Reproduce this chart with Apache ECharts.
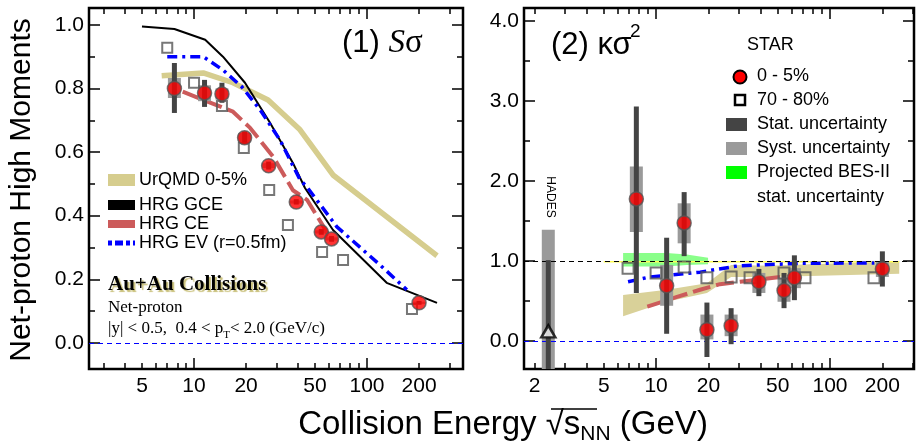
<!DOCTYPE html>
<html><head><meta charset="utf-8">
<script src="https://cdn.jsdelivr.net/npm/echarts@6/dist/echarts.min.js"></script>
<style>html,body{margin:0;padding:0;background:#fff}#c{width:922px;height:445px}</style>
</head><body><div id="c"></div>
<script>
// ---------- data ----------
const energies = [7.7, 11.5, 14.5, 19.6, 27, 39, 54.4, 62.4, 200];
// Panel (1) S sigma, 0-5%
const sSig05 = [0.800, 0.786, 0.783, 0.645, 0.557, 0.443, 0.349, 0.327, 0.126];
const sSigStatLo = [0.723, 0.742, 0.755, 0.625, 0.545, 0.435, 0.340, 0.318, 0.120];
const sSigStatHi = [0.880, 0.827, 0.818, 0.665, 0.570, 0.452, 0.358, 0.336, 0.132];
const sSigSysLo = [0.770, 0.760, 0.765, 0.630, 0.550, 0.438, 0.344, 0.322, 0.122];
const sSigSysHi = [0.833, 0.810, 0.800, 0.660, 0.565, 0.448, 0.354, 0.332, 0.130];
// Panel (1) S sigma, 70-80% (plotted slightly offset in energy)
const sSig7080E = [7.0, 10.0, 14.5, 19.4, 27.2, 34.9, 55, 72.7, 182];
const sSig7080 = [0.928, 0.818, 0.745, 0.613, 0.481, 0.371, 0.286, 0.261, 0.107];
// Panel (1) models
const urqmdS = [[6.5, 0.840], [11.3, 0.849], [16.8, 0.818], [26.8, 0.764], [41, 0.670], [63.6, 0.528], [254, 0.274]];
const hrgGceS = [[5, 0.995], [7.7, 0.987], [11.6, 0.953], [14.7, 0.900], [19.7, 0.818], [27.5, 0.692], [37.3, 0.566], [43.8, 0.487], [63.6, 0.355], [130, 0.189], [254, 0.126]];
const hrgCeS = [[8.6, 0.790], [11.3, 0.764], [16.8, 0.727], [21.1, 0.676], [28.7, 0.585], [37.3, 0.480], [45, 0.450], [61, 0.333]];
const hrgEvS = [[7.0, 0.900], [11.3, 0.900], [14.7, 0.858], [18.9, 0.805], [24.1, 0.733], [31.4, 0.638], [41, 0.513], [45, 0.490], [67, 0.365], [119, 0.245], [170, 0.167]];

// Panel (2) kappa sigma^2, 0-5%
const kSig05 = [1.775, 0.690, 1.475, 0.140, 0.190, 0.740, 0.630, 0.790, 0.900];
const kSigStatLo = [0.60, 0.09, 1.06, -0.20, -0.04, 0.56, 0.41, 0.51, 0.68];
const kSigStatHi = [2.93, 1.29, 1.86, 0.48, 0.41, 0.90, 0.85, 1.07, 1.12];
const kSigSysLo = [1.36, 0.44, 1.22, 0.02, 0.06, 0.60, 0.49, 0.66, 0.80];
const kSigSysHi = [2.18, 0.95, 1.72, 0.33, 0.33, 0.85, 0.79, 0.91, 0.99];
// Panel (2) 70-80%
const kSig7080E = [6.9, 10.0, 14.5, 19.6, 27, 34.7, 54.4, 71.8, 179];
const kSig7080 = [0.91, 0.85, 0.925, 0.79, 0.80, 0.79, 0.85, 0.79, 0.79];
// HADES
const hadesE = [2.4];
const hadesVal = [0.12];
const hadesStat = [[-0.6, 1.01]];
const hadesSys = [[-0.6, 1.39]];
// Panel (2) models / bands
const urqmdKUpper = [[6.46, 0.575], [11.5, 0.64], [19.6, 0.72], [27, 0.95], [45, 0.94], [250, 1.00]];
const urqmdKLower = [[6.46, 0.31], [11.5, 0.49], [19.6, 0.60], [27, 0.80], [45, 0.80], [250, 0.84]];
const besIIUpper = [[6.46, 1.10], [11.5, 1.10], [15, 1.08], [19.9, 1.04]];
const besIILower = [[6.46, 0.93], [11.5, 0.93], [15, 0.95], [19.9, 0.96]];
const hrgGceK = [[5, 0.99], [250, 0.99]];
const hrgCeK = [[8.9, 0.43], [13.2, 0.55], [17.9, 0.64], [23.3, 0.71], [30.4, 0.74], [51.6, 0.80]];
const hrgEvK = [[6.9, 0.74], [9.2, 0.80], [11.5, 0.82], [17.9, 0.86], [30, 0.94], [67, 0.97], [180, 0.975]];

// axes
const xRangeL = [2.47, 359];
const xRangeR = [1.74, 304];
const xLabelsL = [5, 10, 20, 50, 100, 200];
const xLabelsR = [2, 5, 10, 20, 50, 100, 200];
const xMajorTicks = [10, 100];
const xMinorTicks = [2, 3, 4, 5, 6, 7, 8, 9, 20, 30, 40, 50, 60, 70, 80, 90, 200, 300];
const yRangeL = [-0.082, 1.053];
const yLabelsL = [0, 0.2, 0.4, 0.6, 0.8, 1.0];
const yMinorL = [0.1, 0.3, 0.5, 0.7, 0.9];
const yRangeR = [-0.35, 4.16];
const yLabelsR = [0, 1, 2, 3, 4];
const yMinorR = [0.5, 1.5, 2.5, 3.5];

// ---------- helpers ----------
const L = Math.log10;
const FONT = 'Liberation Sans';
const SERIF = 'Liberation Serif';
const xy = (xs, ys) => xs.map((x, i) => [L(x), ys[i]]);
const pts = arr => arr.map(p => [L(p[0]), p[1]]);

function mkX(gi, range, labels, pos) {
  const inR = v => v >= range[0] && v <= range[1];
  const base = {type: 'value', gridIndex: gi, min: L(range[0]), max: L(range[1]), position: pos,
    axisLine: {show: false, onZero: false}, splitLine: {show: false}};
  return [
    Object.assign({}, base, {
      axisTick: {show: true, inside: true, length: 11, lineStyle: {color: '#000', width: 1.5}, customValues: xMajorTicks.filter(inR).map(L)},
      axisLabel: labels ? {show: true, customValues: labels.filter(inR).map(L), formatter: v => String(Math.round(Math.pow(10, v))),
        fontSize: 21, color: '#000', margin: 7, fontFamily: FONT} : {show: false}
    }),
    Object.assign({}, base, {
      axisTick: {show: true, inside: true, length: 6, lineStyle: {color: '#000', width: 1.5}, customValues: xMinorTicks.filter(inR).map(L)},
      axisLabel: {show: false}
    })
  ];
}
function mkY(gi, range, labels, minors, pos, showLabels) {
  const base = {type: 'value', gridIndex: gi, min: range[0], max: range[1], position: pos,
    axisLine: {show: false, onZero: false}, splitLine: {show: false}};
  return [
    Object.assign({}, base, {
      axisTick: {show: true, inside: true, length: 11, lineStyle: {color: '#000', width: 1.5}, customValues: labels},
      axisLabel: showLabels ? {show: true, customValues: labels, formatter: v => v.toFixed(1),
        fontSize: 21, color: '#000', margin: 5, fontFamily: FONT} : {show: false}
    }),
    Object.assign({}, base, {
      axisTick: {show: true, inside: true, length: 6, lineStyle: {color: '#000', width: 1.5}, customValues: minors},
      axisLabel: {show: false}
    })
  ];
}
function barRender(width, color) {
  return function (params, api) {
    const x = api.value(0), lo = api.value(1), hi = api.value(2);
    const pT = api.coord([x, hi]), pB = api.coord([x, lo]);
    const cs = params.coordSys;
    const y1 = Math.max(pT[1], cs.y), y2 = Math.min(pB[1], cs.y + cs.height);
    return {type: 'rect', shape: {x: pT[0] - width / 2, y: y1, width: width, height: Math.max(0, y2 - y1)}, style: {fill: color}};
  };
}
function bandRender(upper, lower, color) {
  return function (params, api) {
    if (params.dataIndex !== 0) return;
    const p = upper.map(q => api.coord([L(q[0]), q[1]]))
      .concat(lower.slice().reverse().map(q => api.coord([L(q[0]), q[1]])));
    return {type: 'polygon', shape: {points: p}, style: {fill: color}};
  };
}
function errSeries(xi, yi, xs, lo, hi, width, color, z) {
  return {type: 'custom', xAxisIndex: xi, yAxisIndex: yi, z: z, silent: true,
    data: xs.map((x, i) => [L(x), lo[i], hi[i]]), renderItem: barRender(width, color)};
}
const KHAKI = '#d6cd8e';
const REDLINE = '#cc5b5b';

// ---------- option ----------
const option = {
  animation: false,
  backgroundColor: '#fff',
  textStyle: {fontFamily: FONT},
  grid: [
    {left: 89, top: 8, width: 374, height: 361, show: true, borderColor: '#000', borderWidth: 2.5, backgroundColor: 'transparent'},
    {left: 524, top: 8, width: 390, height: 361, show: true, borderColor: '#000', borderWidth: 2.5, backgroundColor: 'transparent'}
  ],
  xAxis: [].concat(
    mkX(0, xRangeL, xLabelsL, 'bottom'), mkX(0, xRangeL, null, 'top'),
    mkX(1, xRangeR, xLabelsR, 'bottom'), mkX(1, xRangeR, null, 'top')
  ),
  yAxis: [].concat(
    mkY(0, yRangeL, yLabelsL, yMinorL, 'left', true), mkY(0, yRangeL, yLabelsL, yMinorL, 'right', false),
    mkY(1, yRangeR, yLabelsR, yMinorR, 'left', true), mkY(1, yRangeR, yLabelsR, yMinorR, 'right', false)
  ),
  series: [
    // ----- panel 1 -----
    {type: 'line', xAxisIndex: 0, yAxisIndex: 0, data: pts(urqmdS), symbol: 'none', z: 2,
      lineStyle: {color: KHAKI, width: 5.5}},
    {type: 'line', xAxisIndex: 0, yAxisIndex: 0, data: pts(hrgGceS), symbol: 'none', z: 3,
      lineStyle: {color: '#000', width: 2},
      markLine: {silent: true, symbol: 'none', label: {show: false}, animation: false,
        lineStyle: {color: '#0000ff', type: [5, 4], width: 1.2}, data: [{yAxis: 0}]}},
    {type: 'line', xAxisIndex: 0, yAxisIndex: 0, data: pts(hrgCeS), symbol: 'none', z: 3,
      lineStyle: {color: REDLINE, width: 4, type: [18, 6]}},
    {type: 'line', xAxisIndex: 0, yAxisIndex: 0, data: pts(hrgEvS), symbol: 'none', z: 3,
      lineStyle: {color: '#0000ff', width: 3.5, type: [10, 5, 3, 5]}},
    errSeries(0, 0, energies, sSigSysLo, sSigSysHi, 13, '#9a9a9a', 4),
    errSeries(0, 0, energies, sSigStatLo, sSigStatHi, 5, '#444444', 5),
    {type: 'scatter', xAxisIndex: 0, yAxisIndex: 0, data: xy(sSig7080E, sSig7080), symbol: 'rect', symbolSize: 10, z: 6,
      itemStyle: {color: 'rgba(255,255,255,0)', borderColor: '#555', borderWidth: 2}},
    {type: 'scatter', xAxisIndex: 0, yAxisIndex: 0, data: xy(energies, sSig05), symbol: 'circle', symbolSize: 14, z: 7,
      itemStyle: {color: '#ff0000', borderColor: '#555', borderWidth: 1.5}},
    // ----- panel 2 -----
    {type: 'custom', xAxisIndex: 4, yAxisIndex: 4, z: 1, silent: true, clip: true,
      data: [[L(urqmdKUpper[0][0]), urqmdKUpper[0][1]]], renderItem: bandRender(urqmdKUpper, urqmdKLower, '#d9d199')},
    {type: 'custom', xAxisIndex: 4, yAxisIndex: 4, z: 1, silent: true, clip: true,
      data: [[L(besIIUpper[0][0]), besIIUpper[0][1]]], renderItem: bandRender(besIIUpper, besIILower, 'rgba(60,255,60,0.6)')},
    {type: 'line', xAxisIndex: 4, yAxisIndex: 4, data: pts(hrgGceK), symbol: 'none', z: 2,
      lineStyle: {color: '#ffff55', width: 1.5},
      markLine: {silent: true, symbol: 'none', label: {show: false}, animation: false,
        data: [
          {yAxis: 1, lineStyle: {color: '#000', type: [5, 4], width: 1.2}},
          {yAxis: 0, lineStyle: {color: '#0000ff', type: [5, 4], width: 1.2}}
        ]}},
    {type: 'line', xAxisIndex: 4, yAxisIndex: 4, data: pts(hrgCeK), symbol: 'none', z: 3,
      lineStyle: {color: REDLINE, width: 4, type: [18, 6]}},
    {type: 'line', xAxisIndex: 4, yAxisIndex: 4, data: pts(hrgEvK), symbol: 'none', z: 3,
      lineStyle: {color: '#0000ff', width: 3.5, type: [10, 5, 3, 5]}},
    errSeries(4, 4, hadesE, hadesSys.map(d => d[0]), hadesSys.map(d => d[1]), 13, '#9a9a9a', 4),
    errSeries(4, 4, hadesE, hadesStat.map(d => d[0]), hadesStat.map(d => d[1]), 5, '#444444', 5),
    {type: 'scatter', xAxisIndex: 4, yAxisIndex: 4, data: xy(hadesE, hadesVal), symbol: 'triangle', symbolSize: [14, 12], z: 7,
      itemStyle: {color: '#fff', borderColor: '#000', borderWidth: 2.5}},
    errSeries(4, 4, energies, kSigSysLo, kSigSysHi, 13, '#9a9a9a', 4),
    errSeries(4, 4, energies, kSigStatLo, kSigStatHi, 5, '#444444', 5),
    {type: 'scatter', xAxisIndex: 4, yAxisIndex: 4, data: xy(kSig7080E, kSig7080), symbol: 'rect', symbolSize: 11, z: 6,
      itemStyle: {color: 'rgba(255,255,255,0)', borderColor: '#555', borderWidth: 2}},
    {type: 'scatter', xAxisIndex: 4, yAxisIndex: 4, data: xy(energies, kSig05), symbol: 'circle', symbolSize: 14, z: 7,
      itemStyle: {color: '#ff0000', borderColor: '#555', borderWidth: 1.5}}
  ],
  graphic: [
    // axis titles
    {type: 'text', x: 22, y: 190, rotation: Math.PI / 2, z: 10,
      style: {text: 'Net-proton High Moments', font: '30px ' + FONT, fill: '#000', textAlign: 'center', textVerticalAlign: 'middle', align: 'center', verticalAlign: 'middle'}},
    {type: 'text', x: 503, y: 425, z: 10,
      style: {text: '{a|Collision Energy }{r|√}{b|s}{c|NN}{a| (GeV)}', textAlign: 'center', textVerticalAlign: 'middle', align: 'center', verticalAlign: 'middle',
        rich: {a: {fontSize: 33, fontFamily: FONT, fill: '#000', lineHeight: 40},
               r: {fontSize: 33, fontFamily: FONT, fill: '#000', lineHeight: 40},
               b: {fontSize: 33, fontFamily: FONT, fill: '#000', lineHeight: 40},
               c: {fontSize: 21, fontFamily: FONT, fill: '#000', lineHeight: 21, padding: [19, 0, 0, 0]}}}},
    {type: 'line', shape: {x1: 551, y1: 409, x2: 597, y2: 409}, style: {stroke: '#000', lineWidth: 1.5}, z: 10},
    // panel titles
    {type: 'text', x: 342, y: 43, z: 10,
      style: {text: '{a|(1) }{b|S}{c|σ}', textVerticalAlign: 'middle', verticalAlign: 'middle',
        rich: {a: {fontSize: 31, fontFamily: FONT, fill: '#000'}, b: {fontSize: 33, fontFamily: SERIF, fontStyle: 'italic', fill: '#000'}, c: {fontSize: 33, fontFamily: SERIF, fill: '#000'}}}},
    {type: 'text', x: 551, y: 45, z: 10,
      style: {text: '(2) κσ', font: '31px ' + FONT, fill: '#000', textVerticalAlign: 'middle', verticalAlign: 'middle'}},
    {type: 'text', x: 630, y: 32, z: 10,
      style: {text: '2', font: '19px ' + FONT, fill: '#000', textVerticalAlign: 'middle', verticalAlign: 'middle'}},
    // left legend
    {type: 'rect', shape: {x: 108, y: 174, width: 27, height: 12}, style: {fill: KHAKI}, z: 10},
    {type: 'text', x: 139, y: 180, z: 10, style: {text: 'UrQMD 0-5%', font: '18px ' + FONT, fill: '#000', textVerticalAlign: 'middle', verticalAlign: 'middle'}},
    {type: 'rect', shape: {x: 108, y: 200, width: 27, height: 10}, style: {fill: '#000'}, z: 10},
    {type: 'text', x: 139, y: 205, z: 10, style: {text: 'HRG GCE', font: '18px ' + FONT, fill: '#000', textVerticalAlign: 'middle', verticalAlign: 'middle'}},
    {type: 'rect', shape: {x: 108, y: 220, width: 27, height: 8}, style: {fill: REDLINE}, z: 10},
    {type: 'text', x: 139, y: 224, z: 10, style: {text: 'HRG CE', font: '18px ' + FONT, fill: '#000', textVerticalAlign: 'middle', verticalAlign: 'middle'}},
    {type: 'line', shape: {x1: 108, y1: 243, x2: 135, y2: 243}, style: {stroke: '#0000ff', lineWidth: 5, lineDash: [4, 3, 8, 3]}, z: 10},
    {type: 'text', x: 139, y: 243, z: 10, style: {text: 'HRG EV (r=0.5fm)', font: '18px ' + FONT, fill: '#000', textVerticalAlign: 'middle', verticalAlign: 'middle'}},
    // collision info
    {type: 'text', x: 108, y: 285, z: 10,
      style: {text: 'Au+Au Collisions', font: 'bold 21px ' + SERIF, fill: '#000', textVerticalAlign: 'middle', verticalAlign: 'middle',
        textShadowColor: '#c9c07a', textShadowOffsetX: 2, textShadowOffsetY: 2, textShadowBlur: 1}},
    {type: 'text', x: 108, y: 308, z: 10, style: {text: 'Net-proton', font: '17px ' + SERIF, fill: '#000', textVerticalAlign: 'middle', verticalAlign: 'middle'}},
    {type: 'text', x: 108, y: 329, z: 10,
      style: {text: '{a||y| < 0.5,  0.4 < p}{s|T}{a|< 2.0 (GeV/c)}', textVerticalAlign: 'middle', verticalAlign: 'middle',
        rich: {a: {fontSize: 17, fontFamily: SERIF, fill: '#000', lineHeight: 20},
               s: {fontSize: 11, fontFamily: SERIF, fill: '#000', lineHeight: 11, padding: [13, 0, 0, 0]}}}},
    // right legend
    {type: 'text', x: 747, y: 45, z: 10, style: {text: 'STAR', font: '18px ' + FONT, fill: '#000', textVerticalAlign: 'middle', verticalAlign: 'middle'}},
    {type: 'circle', shape: {cx: 740, cy: 77, r: 6.5}, style: {fill: '#ff0000', stroke: '#000', lineWidth: 2}, z: 10},
    {type: 'text', x: 757, y: 76, z: 10, style: {text: '0 - 5%', font: '18px ' + FONT, fill: '#000', textVerticalAlign: 'middle', verticalAlign: 'middle'}},
    {type: 'rect', shape: {x: 735, y: 95, width: 10, height: 10}, style: {fill: '#fff', stroke: '#000', lineWidth: 2.5}, z: 10},
    {type: 'text', x: 757, y: 100, z: 10, style: {text: '70 - 80%', font: '18px ' + FONT, fill: '#000', textVerticalAlign: 'middle', verticalAlign: 'middle'}},
    {type: 'rect', shape: {x: 726, y: 118, width: 21, height: 13}, style: {fill: '#444444'}, z: 10},
    {type: 'text', x: 757, y: 124, z: 10, style: {text: 'Stat. uncertainty', font: '18px ' + FONT, fill: '#000', textVerticalAlign: 'middle', verticalAlign: 'middle'}},
    {type: 'rect', shape: {x: 726, y: 142, width: 21, height: 13}, style: {fill: '#9a9a9a'}, z: 10},
    {type: 'text', x: 757, y: 148, z: 10, style: {text: 'Syst. uncertainty', font: '18px ' + FONT, fill: '#000', textVerticalAlign: 'middle', verticalAlign: 'middle'}},
    {type: 'rect', shape: {x: 726, y: 166, width: 21, height: 13}, style: {fill: '#00ff00'}, z: 10},
    {type: 'text', x: 757, y: 172, z: 10, style: {text: 'Projected BES-II', font: '18px ' + FONT, fill: '#000', textVerticalAlign: 'middle', verticalAlign: 'middle'}},
    {type: 'text', x: 757, y: 197, z: 10, style: {text: 'stat. uncertainty', font: '18px ' + FONT, fill: '#000', textVerticalAlign: 'middle', verticalAlign: 'middle'}},
    // HADES label
    {type: 'text', x: 550, y: 197, rotation: -Math.PI / 2, z: 10,
      style: {text: 'HADES', font: '12px ' + FONT, fill: '#000', textAlign: 'center', textVerticalAlign: 'middle', align: 'center', verticalAlign: 'middle'}}
  ]
};
const chart = echarts.init(document.getElementById('c'), null, {renderer: 'canvas'});
chart.setOption(option);
</script></body></html>
